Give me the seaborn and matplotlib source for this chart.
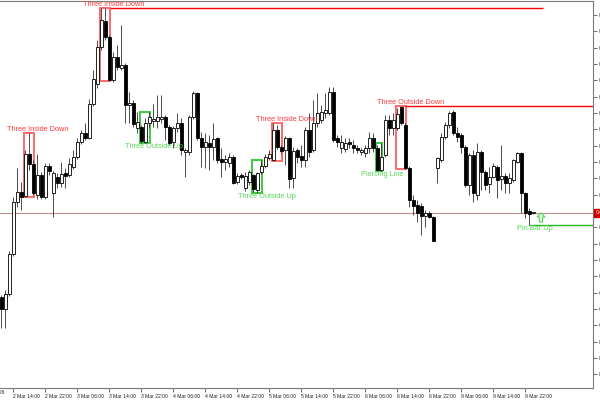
import numpy as np
import seaborn as sns
import matplotlib.pyplot as plt
from matplotlib.patches import Rectangle, Polygon
from matplotlib.transforms import blended_transform_factory

# H1 candles, 2 Mar 11:00 .. 9 Mar 23:00 (weekend skipped)
open_ = [0.6903, 0.6891, 0.6906, 0.6946, 0.6998, 0.7008, 0.7004, 0.7046, 0.7036, 0.7005,
         0.7025, 0.7003, 0.7034, 0.7007, 0.7023, 0.7017, 0.7027, 0.7025, 0.7033, 0.7043,
         0.7058, 0.7067, 0.7062, 0.7096, 0.7116, 0.7153, 0.7179, 0.7163, 0.7120, 0.7143,
         0.7132, 0.7135, 0.7095, 0.7097, 0.7072, 0.7073, 0.7058, 0.7077, 0.7079, 0.7079,
         0.7081, 0.7083, 0.7073, 0.7058, 0.7072, 0.7077, 0.7048, 0.7048, 0.7083, 0.7107,
         0.7062, 0.7053, 0.7057, 0.7053, 0.7062, 0.7041, 0.7038, 0.7037, 0.7043, 0.7018,
         0.7025, 0.7012, 0.7018, 0.7025, 0.7010, 0.7028, 0.7034, 0.7042, 0.7040, 0.7070,
         0.7053, 0.7050, 0.7062, 0.7022, 0.7050, 0.7044, 0.7040, 0.7070, 0.7050, 0.7077,
         0.7080, 0.7087, 0.7087, 0.7108, 0.7062, 0.7052, 0.7051, 0.7058, 0.7055, 0.7052,
         0.7048, 0.7047, 0.7052, 0.7062, 0.7052, 0.7030, 0.7045, 0.7080, 0.7072, 0.7072,
         0.7093, 0.7075, 0.7032, 0.7000, 0.6995, 0.6994, 0.6984, 0.6987, 0.6983, 0.7032,
         0.7040, 0.7063, 0.7075, 0.7088, 0.7067, 0.7065, 0.7053, 0.7015, 0.7045, 0.7005,
         0.7048, 0.7028, 0.7016, 0.7023, 0.7033, 0.7021, 0.7024, 0.7017, 0.7020, 0.7038,
         0.7047, 0.7007, 0.6989, 0.6987]
high = [0.6905, 0.6910, 0.6949, 0.7003, 0.7032, 0.7018, 0.7050, 0.7067, 0.7040, 0.7046,
        0.7028, 0.7037, 0.7037, 0.7029, 0.7027, 0.7038, 0.7032, 0.7042, 0.7050, 0.7062,
        0.7070, 0.7077, 0.7101, 0.7130, 0.7160, 0.7192, 0.7192, 0.7165, 0.7148, 0.7155,
        0.7175, 0.7137, 0.7108, 0.7100, 0.7088, 0.7075, 0.7082, 0.7088, 0.7096, 0.7105,
        0.7105, 0.7085, 0.7075, 0.7074, 0.7087, 0.7082, 0.7052, 0.7085, 0.7109, 0.7108,
        0.7068, 0.7067, 0.7065, 0.7077, 0.7063, 0.7052, 0.7045, 0.7047, 0.7045, 0.7027,
        0.7027, 0.7028, 0.7030, 0.7026, 0.7028, 0.7040, 0.7046, 0.7050, 0.7077, 0.7075,
        0.7055, 0.7064, 0.7063, 0.7053, 0.7052, 0.7055, 0.7073, 0.7087, 0.7100, 0.7107,
        0.7095, 0.7107, 0.7113, 0.7113, 0.7065, 0.7065, 0.7062, 0.7062, 0.7060, 0.7055,
        0.7052, 0.7055, 0.7068, 0.7067, 0.7055, 0.7057, 0.7085, 0.7085, 0.7087, 0.7092,
        0.7094, 0.7077, 0.7034, 0.7005, 0.7000, 0.6997, 0.6990, 0.6989, 0.6984, 0.7043,
        0.7067, 0.7078, 0.7089, 0.7090, 0.7073, 0.7067, 0.7055, 0.7047, 0.7050, 0.7057,
        0.7050, 0.7030, 0.7033, 0.7037, 0.7035, 0.7055, 0.7027, 0.7027, 0.7041, 0.7048,
        0.7048, 0.7008, 0.6992, 0.6988]
low = [0.6872, 0.6872, 0.6904, 0.6944, 0.6993, 0.6990, 0.7003, 0.7030, 0.7005, 0.7001,
       0.7001, 0.7001, 0.7025, 0.6983, 0.7012, 0.7013, 0.7012, 0.7023, 0.7031, 0.7041,
       0.7056, 0.7060, 0.7061, 0.7094, 0.7112, 0.7150, 0.7160, 0.7119, 0.7118, 0.7130,
       0.7130, 0.7077, 0.7077, 0.7073, 0.7067, 0.7057, 0.7057, 0.7072, 0.7073, 0.7072,
       0.7077, 0.7060, 0.7055, 0.7052, 0.7068, 0.7045, 0.7023, 0.7045, 0.7081, 0.7060,
       0.7033, 0.7032, 0.7030, 0.7040, 0.7037, 0.7023, 0.7030, 0.7033, 0.7016, 0.7016,
       0.7021, 0.7009, 0.7015, 0.7008, 0.7007, 0.7026, 0.7032, 0.7040, 0.7039, 0.7051,
       0.7047, 0.7035, 0.7012, 0.7012, 0.7037, 0.7033, 0.7033, 0.7043, 0.7048, 0.7073,
       0.7077, 0.7082, 0.7085, 0.7058, 0.7053, 0.7047, 0.7048, 0.7052, 0.7047, 0.7047,
       0.7045, 0.7043, 0.7047, 0.7048, 0.7030, 0.7029, 0.7043, 0.7065, 0.7065, 0.7070,
       0.7075, 0.7031, 0.6993, 0.6985, 0.6978, 0.6965, 0.6973, 0.6982, 0.6959, 0.7017,
       0.7038, 0.7061, 0.7072, 0.7065, 0.7058, 0.7047, 0.7013, 0.7005, 0.6998, 0.7000,
       0.7010, 0.7010, 0.7007, 0.7022, 0.7002, 0.7010, 0.7007, 0.7007, 0.7018, 0.7037,
       0.6987, 0.6982, 0.6975, 0.6986]
close = [0.6891, 0.6906, 0.6946, 0.6998, 0.7008, 0.7003, 0.7046, 0.7036, 0.7007, 0.7025,
         0.7003, 0.7034, 0.7029, 0.7027, 0.7017, 0.7026, 0.7024, 0.7036, 0.7043, 0.7058,
         0.7067, 0.7062, 0.7096, 0.7121, 0.7153, 0.7180, 0.7163, 0.7120, 0.7143, 0.7133,
         0.7135, 0.7095, 0.7097, 0.7076, 0.7078, 0.7059, 0.7077, 0.7083, 0.7081, 0.7083,
         0.7083, 0.7073, 0.7057, 0.7072, 0.7077, 0.7050, 0.7050, 0.7083, 0.7107, 0.7062,
         0.7053, 0.7058, 0.7053, 0.7061, 0.7040, 0.7038, 0.7041, 0.7043, 0.7017, 0.7024,
         0.7023, 0.7024, 0.7028, 0.7011, 0.7027, 0.7034, 0.7043, 0.7046, 0.7070, 0.7053,
         0.7049, 0.7062, 0.7021, 0.7049, 0.7043, 0.7040, 0.7070, 0.7048, 0.7077, 0.7087,
         0.7088, 0.7090, 0.7108, 0.7060, 0.7058, 0.7058, 0.7057, 0.7056, 0.7052, 0.7050,
         0.7050, 0.7052, 0.7062, 0.7052, 0.7030, 0.7043, 0.7080, 0.7072, 0.7080, 0.7086,
         0.7077, 0.7032, 0.7000, 0.6994, 0.6987, 0.6984, 0.6987, 0.6983, 0.6959, 0.7042,
         0.7063, 0.7075, 0.7087, 0.7067, 0.7063, 0.7053, 0.7015, 0.7045, 0.7007, 0.7048,
         0.7028, 0.7015, 0.7023, 0.7034, 0.7020, 0.7024, 0.7017, 0.7022, 0.7040, 0.7047,
         0.7007, 0.6987, 0.6986, 0.6987]

bid = 0.6987

time_ticks = [3, 11, 19, 27, 35, 43, 51, 59, 67, 75, 83, 91, 99, 107, 115, 123, 131]
time_labels = ['2 Mar 14:00', '2 Mar 22:00', '3 Mar 06:00', '3 Mar 14:00', '3 Mar 22:00',
               '4 Mar 06:00', '4 Mar 14:00', '4 Mar 22:00', '5 Mar 06:00', '5 Mar 14:00',
               '5 Mar 22:00', '6 Mar 06:00', '6 Mar 14:00', '6 Mar 22:00', '9 Mar 06:00',
               '9 Mar 14:00', '9 Mar 22:00']

# detected patterns
pattern_names = ['Three Inside Down', 'Three Inside Down', 'Three Outside Up', 'Three Outside Up',
                 'Three Inside Down', 'Piercing Line', 'Three Outside Down', 'Pin Bar Up']
pattern_first = [6, 25, 35, 63, 68, 94, 99, 132]
pattern_last = [8, 27, 37, 65, 70, 95, 101, 132]
pattern_bull = [False, False, True, True, False, True, False, True]

RED_BOX = '#ff6a6a'
RED_TXT = '#ff3c3c'
GREEN_BOX = '#3fc83f'
GREEN_TXT = '#5ad85a'

sns.set_theme(style='white')
plt.rcParams['font.family'] = ['Liberation Sans', 'DejaVu Sans']

o = np.array(open_)
h = np.array(high)
l = np.array(low)
c = np.array(close)
idx = np.arange(len(o))

fig = plt.figure(figsize=(6, 4), dpi=100)
ax = fig.add_axes([0, 12 / 400, 593 / 600, 387 / 400])

# bid line
ax.axhline(bid, color='#c09090', lw=0.8, zorder=1)

# pattern boxes + names
label_shift = [1.2, 1.2, 1.2, 1.3, 1.3, 0.2, 1.2, 1.4]
for name, a, b, bull, sh in zip(pattern_names, pattern_first, pattern_last, pattern_bull, label_shift):
    top = h[a:b + 1].max()
    bot = l[a:b + 1].min()
    box_col = GREEN_BOX if bull else RED_BOX
    txt_col = GREEN_TXT if bull else RED_TXT
    if b > a:
        ax.add_patch(Rectangle((a - 0.3, bot), b - a + 0.35, top - bot, fill=False,
                               ec=box_col, lw=1.4, zorder=2))
    if bull:
        ax.text(b + sh, bot - 0.00003, name, color=txt_col, fontsize=5.3,
                ha='center', va='top', zorder=5)
    else:
        ax.text(b + sh, top - 0.00002, name, color=txt_col, fontsize=5.3,
                ha='center', va='bottom', zorder=5)

# level lines
ax.hlines(h[25:28].max(), 27.2, 135.4, color='#ff0000', lw=1.0, zorder=2)
ax.hlines(h[99:102].max(), 101, 148, color='#ff0000', lw=1.0, zorder=2)
ax.hlines(l[132], 132, 148, color='#22b822', lw=1.0, zorder=2)

# hollow up arrow for the pin bar
ax_x, ax_y = 134.9, l[132] + 0.00075
arrow = [(ax_x, ax_y + 0.00045), (ax_x + 1.0, ax_y + 0.00005), (ax_x + 0.4, ax_y + 0.00005),
         (ax_x + 0.4, ax_y - 0.00045), (ax_x - 0.4, ax_y - 0.00045), (ax_x - 0.4, ax_y + 0.00005),
         (ax_x - 1.0, ax_y + 0.00005)]
ax.add_patch(Polygon(arrow, closed=True, fill=False, ec=GREEN_TXT, lw=0.9, zorder=5))

# candles
ax.vlines(idx, l, h, color='#303030', lw=0.6, zorder=3)
up = c >= o
body_lo = np.minimum(o, c)
body_h = np.maximum(np.abs(c - o), 0.00006)
ax.bar(idx, body_h, bottom=body_lo, width=0.72,
       color=np.where(up, 'white', 'black'), edgecolor='black', linewidth=0.6, zorder=4)

ax.set_xlim(-0.325, 147.9)
ax.set_ylim(0.6812, 0.7199)

# axes frame
for side in ['top', 'right', 'bottom']:
    ax.spines[side].set_color('#7a7a7a')
    ax.spines[side].set_linewidth(0.8)
ax.spines['left'].set_visible(False)

ax.yaxis.tick_right()
yt = 0.7185 - 0.0016333 * np.arange(23)
ax.set_yticks(yt, labels=['%.4f' % v for v in yt])
ax.set_xticks(time_ticks, labels=time_labels, ha='left')
ax.tick_params(axis='both', which='both', length=3, width=0.6, color='#555555',
               labelsize=3.6, pad=1, direction='out', labelcolor='#222222')
ax.tick_params(axis='y', left=False, right=True)
ax.tick_params(axis='x', bottom=True)

trans = blended_transform_factory(ax.transData, ax.transAxes)
ax.text(0.8, -0.006, '2 Mar 2026', transform=trans, fontsize=3.6, ha='right', va='top',
        color='#222222')

trans_y = blended_transform_factory(ax.transAxes, ax.transData)
ax.text(1.004, bid, '%.4f' % bid, transform=trans_y, fontsize=3.6, color='white',
        ha='left', va='center', zorder=10,
        bbox=dict(boxstyle='square,pad=0.25', fc='#cc0000', ec='#cc0000'))

fig.savefig('out.png', dpi=100)
